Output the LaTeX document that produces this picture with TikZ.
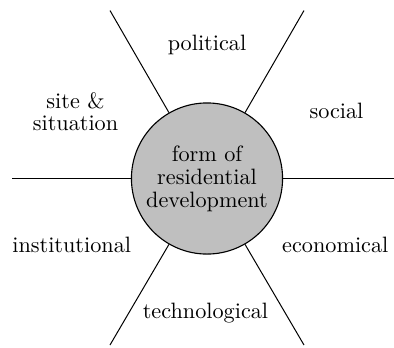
\documentclass[tikz,border=0pt]{standalone}
\begin{document}
\begin{tikzpicture}[x=0.45pt,y=-0.45pt,
  spoke/.style={line width=0.45pt},
  hub/.style={circle,draw,line width=0.5pt,fill=black!25,minimum size=68pt,inner sep=0pt,align=center,font=\fontsize{10}{10.4}\selectfont},
  lbl/.style={anchor=base,inner sep=0pt,align=center,font=\fontsize{10}{10}\selectfont}]
\useasboundingbox (0,0) rectangle (394,347);
\node[hub] (hub) at (207,178.5) {form of\\residential\\development};
\coordinate (e0) at (394,178.5);
\coordinate (e60) at (304,10.5);
\coordinate (e120) at (110,10.5);
\coordinate (e180) at (12,178.5);
\coordinate (e240) at (110,345);
\coordinate (e300) at (304,345);
\draw[spoke] (hub.0) -- (e0);
\draw[spoke] (hub.60) -- (e60);
\draw[spoke] (hub.120) -- (e120);
\draw[spoke] (hub.180) -- (e180);
\draw[spoke] (hub.240) -- (e240);
\draw[spoke] (hub.300) -- (e300);
\node[lbl] (political) at (207,50.7) {political};
\node[lbl] (social) at (336.5,118) {social};
\node[lbl] (site) at (75.5,130.7) {site \&\\situation};
\node[lbl] (institutional) at (71.7,252.3) {institutional};
\node[lbl] (economical) at (335.3,252.3) {economical};
\node[lbl] (technological) at (205.5,318.3) {technological};
\end{tikzpicture}
\end{document}
